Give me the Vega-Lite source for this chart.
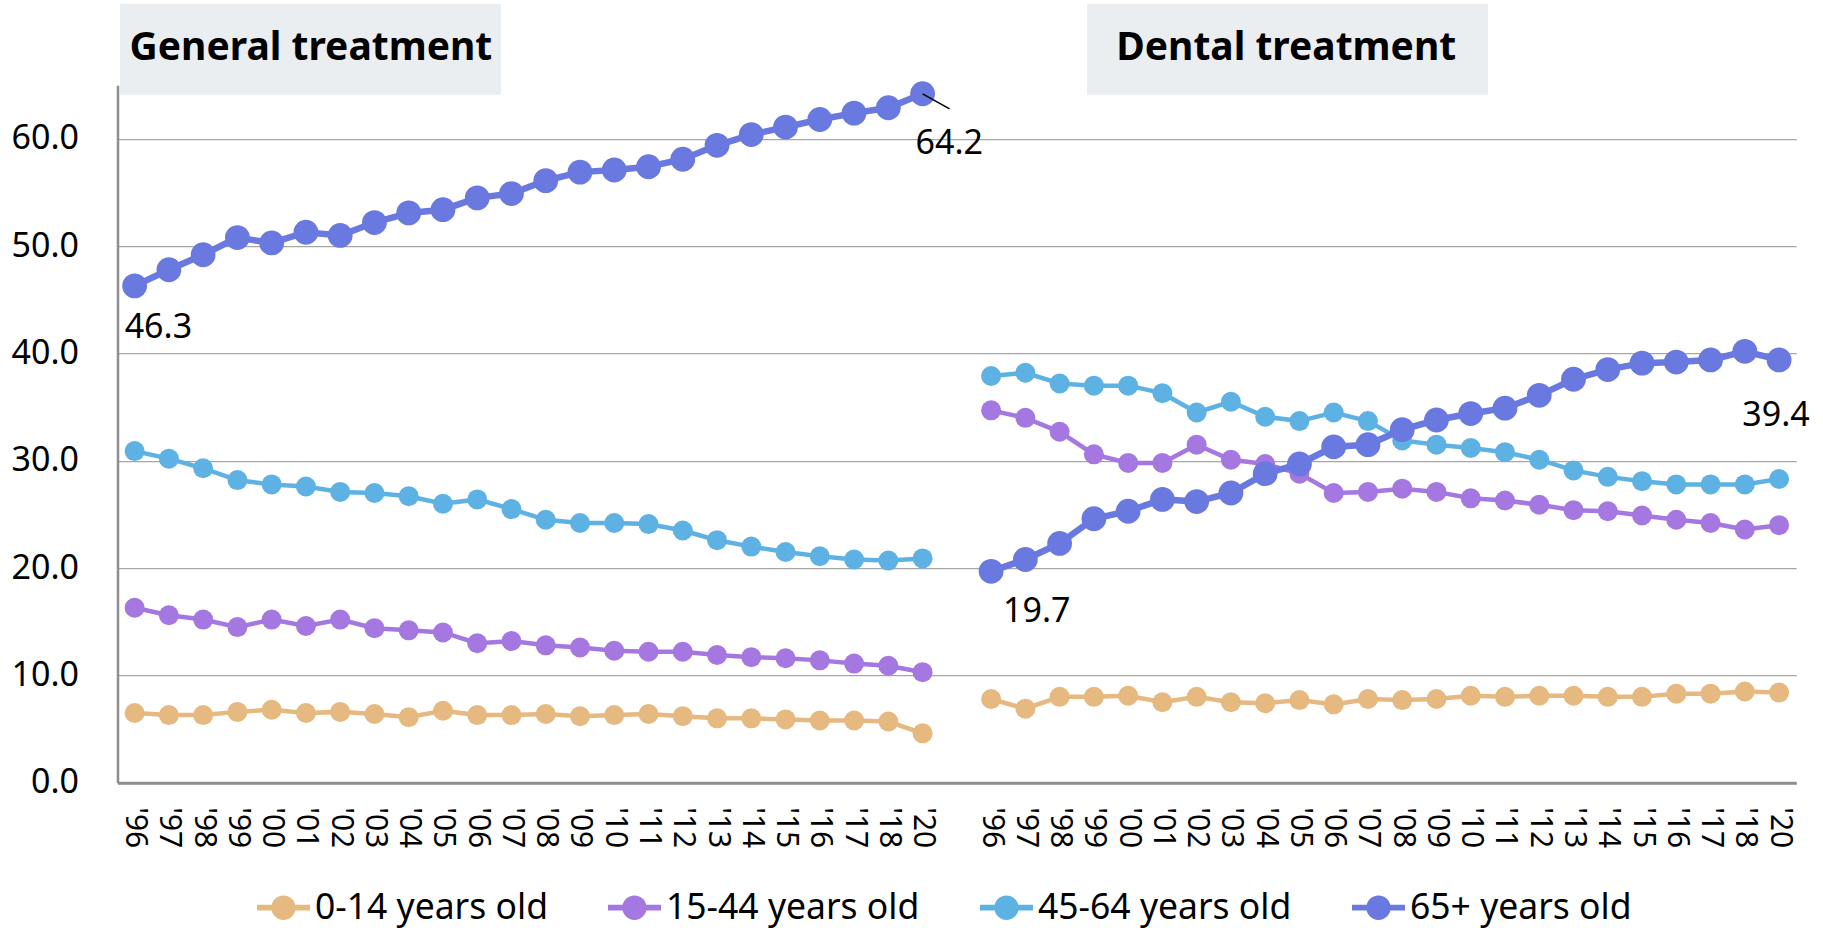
{
  "$schema": "https://vega.github.io/schema/vega-lite/v6.json",
  "width": 1678.7,
  "height": 697.5,
  "autosize": {"type": "none"},
  "padding": {"left": 117.5, "top": 85.2, "right": 26.8, "bottom": 147.3},
  "background": "white",
  "config": {"font": "Noto Sans", "view": {"stroke": null}},
  "datasets": {
    "rates": [
      {"panel": "General", "period": "General '96", "age": "0-14 years old", "rate": 6.5},
      {"panel": "General", "period": "General '97", "age": "0-14 years old", "rate": 6.3},
      {"panel": "General", "period": "General '98", "age": "0-14 years old", "rate": 6.3},
      {"panel": "General", "period": "General '99", "age": "0-14 years old", "rate": 6.6},
      {"panel": "General", "period": "General '00", "age": "0-14 years old", "rate": 6.8},
      {"panel": "General", "period": "General '01", "age": "0-14 years old", "rate": 6.5},
      {"panel": "General", "period": "General '02", "age": "0-14 years old", "rate": 6.6},
      {"panel": "General", "period": "General '03", "age": "0-14 years old", "rate": 6.4},
      {"panel": "General", "period": "General '04", "age": "0-14 years old", "rate": 6.1},
      {"panel": "General", "period": "General '05", "age": "0-14 years old", "rate": 6.7},
      {"panel": "General", "period": "General '06", "age": "0-14 years old", "rate": 6.3},
      {"panel": "General", "period": "General '07", "age": "0-14 years old", "rate": 6.3},
      {"panel": "General", "period": "General '08", "age": "0-14 years old", "rate": 6.4},
      {"panel": "General", "period": "General '09", "age": "0-14 years old", "rate": 6.2},
      {"panel": "General", "period": "General '10", "age": "0-14 years old", "rate": 6.3},
      {"panel": "General", "period": "General '11", "age": "0-14 years old", "rate": 6.4},
      {"panel": "General", "period": "General '12", "age": "0-14 years old", "rate": 6.2},
      {"panel": "General", "period": "General '13", "age": "0-14 years old", "rate": 6.0},
      {"panel": "General", "period": "General '14", "age": "0-14 years old", "rate": 6.0},
      {"panel": "General", "period": "General '15", "age": "0-14 years old", "rate": 5.9},
      {"panel": "General", "period": "General '16", "age": "0-14 years old", "rate": 5.8},
      {"panel": "General", "period": "General '17", "age": "0-14 years old", "rate": 5.8},
      {"panel": "General", "period": "General '18", "age": "0-14 years old", "rate": 5.7},
      {"panel": "General", "period": "General '20", "age": "0-14 years old", "rate": 4.6},

      {"panel": "General", "period": "General '96", "age": "15-44 years old", "rate": 16.3},
      {"panel": "General", "period": "General '97", "age": "15-44 years old", "rate": 15.6},
      {"panel": "General", "period": "General '98", "age": "15-44 years old", "rate": 15.2},
      {"panel": "General", "period": "General '99", "age": "15-44 years old", "rate": 14.5},
      {"panel": "General", "period": "General '00", "age": "15-44 years old", "rate": 15.2},
      {"panel": "General", "period": "General '01", "age": "15-44 years old", "rate": 14.6},
      {"panel": "General", "period": "General '02", "age": "15-44 years old", "rate": 15.2},
      {"panel": "General", "period": "General '03", "age": "15-44 years old", "rate": 14.4},
      {"panel": "General", "period": "General '04", "age": "15-44 years old", "rate": 14.2},
      {"panel": "General", "period": "General '05", "age": "15-44 years old", "rate": 14.0},
      {"panel": "General", "period": "General '06", "age": "15-44 years old", "rate": 13.0},
      {"panel": "General", "period": "General '07", "age": "15-44 years old", "rate": 13.2},
      {"panel": "General", "period": "General '08", "age": "15-44 years old", "rate": 12.8},
      {"panel": "General", "period": "General '09", "age": "15-44 years old", "rate": 12.6},
      {"panel": "General", "period": "General '10", "age": "15-44 years old", "rate": 12.3},
      {"panel": "General", "period": "General '11", "age": "15-44 years old", "rate": 12.2},
      {"panel": "General", "period": "General '12", "age": "15-44 years old", "rate": 12.2},
      {"panel": "General", "period": "General '13", "age": "15-44 years old", "rate": 11.9},
      {"panel": "General", "period": "General '14", "age": "15-44 years old", "rate": 11.7},
      {"panel": "General", "period": "General '15", "age": "15-44 years old", "rate": 11.6},
      {"panel": "General", "period": "General '16", "age": "15-44 years old", "rate": 11.4},
      {"panel": "General", "period": "General '17", "age": "15-44 years old", "rate": 11.1},
      {"panel": "General", "period": "General '18", "age": "15-44 years old", "rate": 10.9},
      {"panel": "General", "period": "General '20", "age": "15-44 years old", "rate": 10.3},

      {"panel": "General", "period": "General '96", "age": "45-64 years old", "rate": 30.9},
      {"panel": "General", "period": "General '97", "age": "45-64 years old", "rate": 30.2},
      {"panel": "General", "period": "General '98", "age": "45-64 years old", "rate": 29.3},
      {"panel": "General", "period": "General '99", "age": "45-64 years old", "rate": 28.2},
      {"panel": "General", "period": "General '00", "age": "45-64 years old", "rate": 27.8},
      {"panel": "General", "period": "General '01", "age": "45-64 years old", "rate": 27.6},
      {"panel": "General", "period": "General '02", "age": "45-64 years old", "rate": 27.1},
      {"panel": "General", "period": "General '03", "age": "45-64 years old", "rate": 27.0},
      {"panel": "General", "period": "General '04", "age": "45-64 years old", "rate": 26.7},
      {"panel": "General", "period": "General '05", "age": "45-64 years old", "rate": 26.0},
      {"panel": "General", "period": "General '06", "age": "45-64 years old", "rate": 26.4},
      {"panel": "General", "period": "General '07", "age": "45-64 years old", "rate": 25.5},
      {"panel": "General", "period": "General '08", "age": "45-64 years old", "rate": 24.5},
      {"panel": "General", "period": "General '09", "age": "45-64 years old", "rate": 24.2},
      {"panel": "General", "period": "General '10", "age": "45-64 years old", "rate": 24.2},
      {"panel": "General", "period": "General '11", "age": "45-64 years old", "rate": 24.1},
      {"panel": "General", "period": "General '12", "age": "45-64 years old", "rate": 23.5},
      {"panel": "General", "period": "General '13", "age": "45-64 years old", "rate": 22.6},
      {"panel": "General", "period": "General '14", "age": "45-64 years old", "rate": 22.0},
      {"panel": "General", "period": "General '15", "age": "45-64 years old", "rate": 21.5},
      {"panel": "General", "period": "General '16", "age": "45-64 years old", "rate": 21.1},
      {"panel": "General", "period": "General '17", "age": "45-64 years old", "rate": 20.8},
      {"panel": "General", "period": "General '18", "age": "45-64 years old", "rate": 20.7},
      {"panel": "General", "period": "General '20", "age": "45-64 years old", "rate": 20.9},

      {"panel": "General", "period": "General '96", "age": "65+ years old", "rate": 46.3},
      {"panel": "General", "period": "General '97", "age": "65+ years old", "rate": 47.8},
      {"panel": "General", "period": "General '98", "age": "65+ years old", "rate": 49.2},
      {"panel": "General", "period": "General '99", "age": "65+ years old", "rate": 50.8},
      {"panel": "General", "period": "General '00", "age": "65+ years old", "rate": 50.3},
      {"panel": "General", "period": "General '01", "age": "65+ years old", "rate": 51.3},
      {"panel": "General", "period": "General '02", "age": "65+ years old", "rate": 51.0},
      {"panel": "General", "period": "General '03", "age": "65+ years old", "rate": 52.2},
      {"panel": "General", "period": "General '04", "age": "65+ years old", "rate": 53.1},
      {"panel": "General", "period": "General '05", "age": "65+ years old", "rate": 53.4},
      {"panel": "General", "period": "General '06", "age": "65+ years old", "rate": 54.5},
      {"panel": "General", "period": "General '07", "age": "65+ years old", "rate": 54.9},
      {"panel": "General", "period": "General '08", "age": "65+ years old", "rate": 56.1},
      {"panel": "General", "period": "General '09", "age": "65+ years old", "rate": 56.9},
      {"panel": "General", "period": "General '10", "age": "65+ years old", "rate": 57.1},
      {"panel": "General", "period": "General '11", "age": "65+ years old", "rate": 57.4},
      {"panel": "General", "period": "General '12", "age": "65+ years old", "rate": 58.1},
      {"panel": "General", "period": "General '13", "age": "65+ years old", "rate": 59.4},
      {"panel": "General", "period": "General '14", "age": "65+ years old", "rate": 60.4},
      {"panel": "General", "period": "General '15", "age": "65+ years old", "rate": 61.1},
      {"panel": "General", "period": "General '16", "age": "65+ years old", "rate": 61.8},
      {"panel": "General", "period": "General '17", "age": "65+ years old", "rate": 62.4},
      {"panel": "General", "period": "General '18", "age": "65+ years old", "rate": 62.9},
      {"panel": "General", "period": "General '20", "age": "65+ years old", "rate": 64.2},

      {"panel": "Dental", "period": "Dental '96", "age": "0-14 years old", "rate": 7.8},
      {"panel": "Dental", "period": "Dental '97", "age": "0-14 years old", "rate": 6.9},
      {"panel": "Dental", "period": "Dental '98", "age": "0-14 years old", "rate": 8.0},
      {"panel": "Dental", "period": "Dental '99", "age": "0-14 years old", "rate": 8.0},
      {"panel": "Dental", "period": "Dental '00", "age": "0-14 years old", "rate": 8.1},
      {"panel": "Dental", "period": "Dental '01", "age": "0-14 years old", "rate": 7.5},
      {"panel": "Dental", "period": "Dental '02", "age": "0-14 years old", "rate": 8.0},
      {"panel": "Dental", "period": "Dental '03", "age": "0-14 years old", "rate": 7.5},
      {"panel": "Dental", "period": "Dental '04", "age": "0-14 years old", "rate": 7.4},
      {"panel": "Dental", "period": "Dental '05", "age": "0-14 years old", "rate": 7.7},
      {"panel": "Dental", "period": "Dental '06", "age": "0-14 years old", "rate": 7.3},
      {"panel": "Dental", "period": "Dental '07", "age": "0-14 years old", "rate": 7.8},
      {"panel": "Dental", "period": "Dental '08", "age": "0-14 years old", "rate": 7.7},
      {"panel": "Dental", "period": "Dental '09", "age": "0-14 years old", "rate": 7.8},
      {"panel": "Dental", "period": "Dental '10", "age": "0-14 years old", "rate": 8.1},
      {"panel": "Dental", "period": "Dental '11", "age": "0-14 years old", "rate": 8.0},
      {"panel": "Dental", "period": "Dental '12", "age": "0-14 years old", "rate": 8.1},
      {"panel": "Dental", "period": "Dental '13", "age": "0-14 years old", "rate": 8.1},
      {"panel": "Dental", "period": "Dental '14", "age": "0-14 years old", "rate": 8.0},
      {"panel": "Dental", "period": "Dental '15", "age": "0-14 years old", "rate": 8.0},
      {"panel": "Dental", "period": "Dental '16", "age": "0-14 years old", "rate": 8.3},
      {"panel": "Dental", "period": "Dental '17", "age": "0-14 years old", "rate": 8.3},
      {"panel": "Dental", "period": "Dental '18", "age": "0-14 years old", "rate": 8.5},
      {"panel": "Dental", "period": "Dental '20", "age": "0-14 years old", "rate": 8.4},

      {"panel": "Dental", "period": "Dental '96", "age": "15-44 years old", "rate": 34.7},
      {"panel": "Dental", "period": "Dental '97", "age": "15-44 years old", "rate": 34.0},
      {"panel": "Dental", "period": "Dental '98", "age": "15-44 years old", "rate": 32.7},
      {"panel": "Dental", "period": "Dental '99", "age": "15-44 years old", "rate": 30.6},
      {"panel": "Dental", "period": "Dental '00", "age": "15-44 years old", "rate": 29.8},
      {"panel": "Dental", "period": "Dental '01", "age": "15-44 years old", "rate": 29.8},
      {"panel": "Dental", "period": "Dental '02", "age": "15-44 years old", "rate": 31.5},
      {"panel": "Dental", "period": "Dental '03", "age": "15-44 years old", "rate": 30.1},
      {"panel": "Dental", "period": "Dental '04", "age": "15-44 years old", "rate": 29.7},
      {"panel": "Dental", "period": "Dental '05", "age": "15-44 years old", "rate": 28.8},
      {"panel": "Dental", "period": "Dental '06", "age": "15-44 years old", "rate": 27.0},
      {"panel": "Dental", "period": "Dental '07", "age": "15-44 years old", "rate": 27.1},
      {"panel": "Dental", "period": "Dental '08", "age": "15-44 years old", "rate": 27.4},
      {"panel": "Dental", "period": "Dental '09", "age": "15-44 years old", "rate": 27.1},
      {"panel": "Dental", "period": "Dental '10", "age": "15-44 years old", "rate": 26.5},
      {"panel": "Dental", "period": "Dental '11", "age": "15-44 years old", "rate": 26.3},
      {"panel": "Dental", "period": "Dental '12", "age": "15-44 years old", "rate": 25.9},
      {"panel": "Dental", "period": "Dental '13", "age": "15-44 years old", "rate": 25.4},
      {"panel": "Dental", "period": "Dental '14", "age": "15-44 years old", "rate": 25.3},
      {"panel": "Dental", "period": "Dental '15", "age": "15-44 years old", "rate": 24.9},
      {"panel": "Dental", "period": "Dental '16", "age": "15-44 years old", "rate": 24.5},
      {"panel": "Dental", "period": "Dental '17", "age": "15-44 years old", "rate": 24.2},
      {"panel": "Dental", "period": "Dental '18", "age": "15-44 years old", "rate": 23.6},
      {"panel": "Dental", "period": "Dental '20", "age": "15-44 years old", "rate": 24.0},

      {"panel": "Dental", "period": "Dental '96", "age": "45-64 years old", "rate": 37.9},
      {"panel": "Dental", "period": "Dental '97", "age": "45-64 years old", "rate": 38.2},
      {"panel": "Dental", "period": "Dental '98", "age": "45-64 years old", "rate": 37.2},
      {"panel": "Dental", "period": "Dental '99", "age": "45-64 years old", "rate": 37.0},
      {"panel": "Dental", "period": "Dental '00", "age": "45-64 years old", "rate": 37.0},
      {"panel": "Dental", "period": "Dental '01", "age": "45-64 years old", "rate": 36.3},
      {"panel": "Dental", "period": "Dental '02", "age": "45-64 years old", "rate": 34.5},
      {"panel": "Dental", "period": "Dental '03", "age": "45-64 years old", "rate": 35.5},
      {"panel": "Dental", "period": "Dental '04", "age": "45-64 years old", "rate": 34.1},
      {"panel": "Dental", "period": "Dental '05", "age": "45-64 years old", "rate": 33.7},
      {"panel": "Dental", "period": "Dental '06", "age": "45-64 years old", "rate": 34.5},
      {"panel": "Dental", "period": "Dental '07", "age": "45-64 years old", "rate": 33.7},
      {"panel": "Dental", "period": "Dental '08", "age": "45-64 years old", "rate": 31.9},
      {"panel": "Dental", "period": "Dental '09", "age": "45-64 years old", "rate": 31.5},
      {"panel": "Dental", "period": "Dental '10", "age": "45-64 years old", "rate": 31.2},
      {"panel": "Dental", "period": "Dental '11", "age": "45-64 years old", "rate": 30.8},
      {"panel": "Dental", "period": "Dental '12", "age": "45-64 years old", "rate": 30.1},
      {"panel": "Dental", "period": "Dental '13", "age": "45-64 years old", "rate": 29.1},
      {"panel": "Dental", "period": "Dental '14", "age": "45-64 years old", "rate": 28.5},
      {"panel": "Dental", "period": "Dental '15", "age": "45-64 years old", "rate": 28.1},
      {"panel": "Dental", "period": "Dental '16", "age": "45-64 years old", "rate": 27.8},
      {"panel": "Dental", "period": "Dental '17", "age": "45-64 years old", "rate": 27.8},
      {"panel": "Dental", "period": "Dental '18", "age": "45-64 years old", "rate": 27.8},
      {"panel": "Dental", "period": "Dental '20", "age": "45-64 years old", "rate": 28.3},

      {"panel": "Dental", "period": "Dental '96", "age": "65+ years old", "rate": 19.7},
      {"panel": "Dental", "period": "Dental '97", "age": "65+ years old", "rate": 20.8},
      {"panel": "Dental", "period": "Dental '98", "age": "65+ years old", "rate": 22.3},
      {"panel": "Dental", "period": "Dental '99", "age": "65+ years old", "rate": 24.6},
      {"panel": "Dental", "period": "Dental '00", "age": "65+ years old", "rate": 25.3},
      {"panel": "Dental", "period": "Dental '01", "age": "65+ years old", "rate": 26.4},
      {"panel": "Dental", "period": "Dental '02", "age": "65+ years old", "rate": 26.2},
      {"panel": "Dental", "period": "Dental '03", "age": "65+ years old", "rate": 27.0},
      {"panel": "Dental", "period": "Dental '04", "age": "65+ years old", "rate": 28.8},
      {"panel": "Dental", "period": "Dental '05", "age": "65+ years old", "rate": 29.7},
      {"panel": "Dental", "period": "Dental '06", "age": "65+ years old", "rate": 31.3},
      {"panel": "Dental", "period": "Dental '07", "age": "65+ years old", "rate": 31.5},
      {"panel": "Dental", "period": "Dental '08", "age": "65+ years old", "rate": 32.9},
      {"panel": "Dental", "period": "Dental '09", "age": "65+ years old", "rate": 33.8},
      {"panel": "Dental", "period": "Dental '10", "age": "65+ years old", "rate": 34.4},
      {"panel": "Dental", "period": "Dental '11", "age": "65+ years old", "rate": 34.9},
      {"panel": "Dental", "period": "Dental '12", "age": "65+ years old", "rate": 36.1},
      {"panel": "Dental", "period": "Dental '13", "age": "65+ years old", "rate": 37.6},
      {"panel": "Dental", "period": "Dental '14", "age": "65+ years old", "rate": 38.5},
      {"panel": "Dental", "period": "Dental '15", "age": "65+ years old", "rate": 39.1},
      {"panel": "Dental", "period": "Dental '16", "age": "65+ years old", "rate": 39.2},
      {"panel": "Dental", "period": "Dental '17", "age": "65+ years old", "rate": 39.4},
      {"panel": "Dental", "period": "Dental '18", "age": "65+ years old", "rate": 40.2},
      {"panel": "Dental", "period": "Dental '20", "age": "65+ years old", "rate": 39.4}
    ]
  },
  "layer": [
    {
      "data": {"name": "rates"},
      "encoding": {
        "x": {
          "field": "period",
          "type": "ordinal",
          "scale": {
            "type": "point",
            "padding": 0.5,
            "domain": [
              "General '96", "General '97", "General '98", "General '99", "General '00", "General '01",
              "General '02", "General '03", "General '04", "General '05", "General '06", "General '07",
              "General '08", "General '09", "General '10", "General '11", "General '12", "General '13",
              "General '14", "General '15", "General '16", "General '17", "General '18", "General '20",
              "gap",
              "Dental '96", "Dental '97", "Dental '98", "Dental '99", "Dental '00", "Dental '01",
              "Dental '02", "Dental '03", "Dental '04", "Dental '05", "Dental '06", "Dental '07",
              "Dental '08", "Dental '09", "Dental '10", "Dental '11", "Dental '12", "Dental '13",
              "Dental '14", "Dental '15", "Dental '16", "Dental '17", "Dental '18", "Dental '20"
            ]
          },
          "axis": {
            "title": null,
            "labelExpr": "datum.value == 'gap' ? '' : split(datum.value, ' ')[1]",
            "labelAngle": 90,
            "labelAlign": "left",
            "labelBaseline": "middle",
            "labelFontSize": 30,
            "labelColor": "#000000",
            "labelPadding": 24,
            "labelOverlap": false,
            "ticks": false,
            "grid": false,
            "domainColor": "#8e8e8e",
            "domainWidth": 3
          }
        },
        "y": {
          "field": "rate",
          "type": "quantitative",
          "scale": {"domain": [0, 65], "nice": false, "zero": true},
          "axis": {
            "title": null,
            "values": [0, 10, 20, 30, 40, 50, 60],
            "format": ".1f",
            "labelFontSize": 34,
            "labelColor": "#000000",
            "labelPadding": 39,
            "ticks": false,
            "grid": true,
            "gridColor": "#a6a6a6",
            "gridWidth": 1.3,
            "domainColor": "#8e8e8e",
            "domainWidth": 2.5
          }
        }
      },
      "layer": [
        {
          "encoding": {
            "color": {
              "field": "age",
              "type": "nominal",
              "scale": {
                "domain": ["0-14 years old", "15-44 years old", "45-64 years old", "65+ years old"],
                "range": ["#e5b97f", "#a577e0", "#5eb2e3", "#6a79e0"]
              },
              "legend": {
                "title": null,
                "orient": "none",
                "legendX": 139.5,
                "legendY": 796,
                "direction": "horizontal",
                "columns": 4,
                "labelFontSize": 35.5,
                "labelColor": "#000000",
                "labelLimit": 500,
                "labelOffset": 5,
                "columnPadding": 60,
                "symbolType": "M-1,-0.11H1V0.11H-1Z M0,-0.46A0.46,0.46,0,1,1,0,0.46A0.46,0.46,0,1,1,0,-0.46Z",
                "symbolSize": 2809,
                "symbolStrokeWidth": 0,
                "symbolOpacity": 1,
                "encode": {"symbols": {"update": {"fill": {"scale": "color", "field": "value"}, "opacity": {"value": 1}}}}
              }
            },
            "detail": {"field": "panel"}
          },
          "layer": [
            {
              "transform": [{"filter": {"field": "age", "oneOf": ["0-14 years old", "15-44 years old", "45-64 years old"]}}],
              "mark": {"type": "line", "strokeWidth": 4.5}
            },
            {
              "transform": [{"filter": {"field": "age", "oneOf": ["0-14 years old", "15-44 years old", "45-64 years old"]}}],
              "mark": {"type": "point", "shape": "circle", "filled": true, "opacity": 1, "size": 400, "strokeWidth": 0}
            },
            {
              "transform": [{"filter": {"field": "age", "equal": "65+ years old"}}],
              "mark": {"type": "line", "strokeWidth": 6.5}
            },
            {
              "transform": [{"filter": {"field": "age", "equal": "65+ years old"}}],
              "mark": {"type": "point", "shape": "circle", "filled": true, "opacity": 1, "size": 616, "strokeWidth": 0}
            }
          ]
        },
        {
          "transform": [{"filter": {"and": [{"field": "period", "equal": "General '20"}, {"field": "age", "equal": "65+ years old"}]}}],
          "mark": {"type": "rule", "color": "#000000", "strokeWidth": 1.5, "x2Offset": 27, "y2Offset": 15},
          "encoding": {"x2": {"field": "period"}, "y2": {"field": "rate"}}
        },
        {
          "transform": [{"filter": {"and": [{"field": "period", "equal": "General '96"}, {"field": "age", "equal": "65+ years old"}]}}],
          "mark": {"type": "text", "fontSize": 34, "color": "#000000", "align": "left", "baseline": "alphabetic", "dx": -10, "dy": 52},
          "encoding": {"text": {"field": "rate", "format": ".1f"}}
        },
        {
          "transform": [{"filter": {"and": [{"field": "period", "equal": "General '20"}, {"field": "age", "equal": "65+ years old"}]}}],
          "mark": {"type": "text", "fontSize": 34, "color": "#000000", "align": "left", "baseline": "alphabetic", "dx": -7, "dy": 60},
          "encoding": {"text": {"field": "rate", "format": ".1f"}}
        },
        {
          "transform": [{"filter": {"and": [{"field": "period", "equal": "Dental '96"}, {"field": "age", "equal": "65+ years old"}]}}],
          "mark": {"type": "text", "fontSize": 34, "color": "#000000", "align": "left", "baseline": "alphabetic", "dx": 12, "dy": 51},
          "encoding": {"text": {"field": "rate", "format": ".1f"}}
        },
        {
          "transform": [{"filter": {"and": [{"field": "period", "equal": "Dental '20"}, {"field": "age", "equal": "65+ years old"}]}}],
          "mark": {"type": "text", "fontSize": 34, "color": "#000000", "align": "center", "baseline": "alphabetic", "dx": -3, "dy": 66},
          "encoding": {"text": {"field": "rate", "format": ".1f"}}
        }
      ]
    },
    {
      "data": {"values": [{}]},
      "mark": {"type": "rect", "fill": "#ebeef1", "xOffset": -14.6, "x2Offset": -10.5},
      "encoding": {
        "x": {"datum": "General '96", "type": "ordinal", "axis": {"title": null}},
        "x2": {"datum": "General '07"},
        "y": {"datum": 72.6, "type": "quantitative"},
        "y2": {"datum": 64.1}
      }
    },
    {
      "data": {"values": [{}]},
      "mark": {"type": "rect", "fill": "#ebeef1", "xOffset": -6.9, "x2Offset": -17},
      "encoding": {
        "x": {"datum": "Dental '99", "type": "ordinal", "axis": {"title": null}},
        "x2": {"datum": "Dental '11"},
        "y": {"datum": 72.6, "type": "quantitative"},
        "y2": {"datum": 64.1}
      }
    },
    {
      "data": {"values": [{}]},
      "mark": {"type": "text", "text": "General treatment", "fontSize": 39, "fontWeight": "bold", "color": "#000000", "align": "center", "baseline": "alphabetic", "dx": 5},
      "encoding": {
        "x": {"datum": "General '01", "type": "ordinal", "axis": {"title": null}},
        "y": {"datum": 67.35, "type": "quantitative"}
      }
    },
    {
      "data": {"values": [{}]},
      "mark": {"type": "text", "text": "Dental treatment", "fontSize": 39, "fontWeight": "bold", "color": "#000000", "align": "center", "baseline": "alphabetic", "dx": 21},
      "encoding": {
        "x": {"datum": "Dental '04", "type": "ordinal", "axis": {"title": null}},
        "y": {"datum": 67.35, "type": "quantitative"}
      }
    }
  ]
}
